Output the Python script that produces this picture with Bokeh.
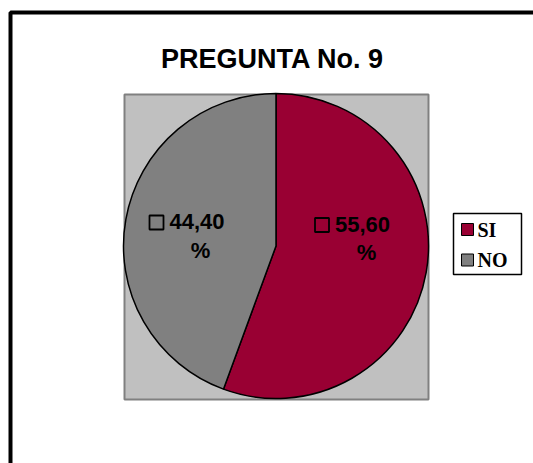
import math
from bokeh.plotting import figure
from bokeh.models import Range1d, ColumnDataSource
from bokeh.core.properties import value
from bokeh.embed import file_html
from bokeh.resources import INLINE

# ---- data ----
categories = ["SI", "NO"]
percentages = [55.60, 44.40]
label_texts = ["55,60", "44,40"]
colors = ["#990033", "#808080"]
title_text = "PREGUNTA No. 9"

W, H = 533, 463
def sy(y):
    return H - y

p = figure(width=W, height=H, output_backend="svg", toolbar_location=None,
           x_range=Range1d(0, W), y_range=Range1d(0, H), min_border=0)
p.axis.visible = False
p.grid.visible = False
p.outline_line_color = None
p.background_fill_color = "white"
p.border_fill_color = "white"

# outer frame (extends past right/bottom edges)
p.quad(left=[10], right=[W + 30], top=[sy(12)], bottom=[sy(H + 30)],
       fill_color=None, line_color="black", line_width=4)

# plot area
p.quad(left=[124], right=[428], top=[sy(94)], bottom=[sy(399)],
       fill_color="#C0C0C0", line_color="#808080", line_width=2)

# pie
cx, cy, r = 275.5, 245.5, 152.5
total = sum(percentages)
starts, ends = [], []
a = math.pi / 2
for v in percentages:
    da = 2 * math.pi * v / total
    # clockwise from top
    ends.append(a)
    starts.append(a - da)
    a -= da
src = ColumnDataSource(dict(start=starts, end=ends, color=colors, cat=categories))
p.wedge(x=cx, y=sy(cy), radius=r, start_angle="start", end_angle="end",
        fill_color="color", line_color="black", line_width=1.5, source=src)

# data labels (positions = layout constants)
label_pos = [(321.5, 224.5), (156.0, 222.0)]
pct_pos = [(366.0, 252.0), (200.0, 250.0)]
for (bx, by), (px, py), t in zip(label_pos, pct_pos, label_texts):
    p.rect(x=[bx], y=[sy(by)], width=14, height=14, width_units="screen",
           height_units="screen", fill_color=None, line_color="black", line_width=1.8)
    p.text(x=[bx + 13], y=[sy(by - 1)], text=[t], text_font=value("Liberation Sans"),
           text_font_style="bold", text_font_size="22px", text_align="left",
           text_baseline="middle", text_color="black")
    p.text(x=[px], y=[sy(py)], text=["%"], text_font=value("Liberation Sans"),
           text_font_style="bold", text_font_size="22px", text_align="center",
           text_baseline="middle", text_color="black")

# title
p.text(x=[272], y=[sy(58)], text=[title_text], text_font=value("Liberation Sans"),
       text_font_style="bold", text_font_size="27px", text_align="center",
       text_baseline="middle", text_color="black")

# legend
p.quad(left=[453], right=[521], top=[sy(213)], bottom=[sy(274)],
       fill_color="white", line_color="black", line_width=1.5)
leg_y = [229, 259.5]
for cat, col, ly in zip(categories, colors, leg_y):
    p.rect(x=[467], y=[sy(ly)], width=12, height=12, width_units="screen",
           height_units="screen", fill_color=col, line_color="black", line_width=1)
    p.text(x=[477], y=[sy(ly)], text=[cat], text_font=value("Liberation Serif"),
           text_font_style="bold", text_font_size="20px", text_align="left",
           text_baseline="middle", text_color="black")

open("out.html", "w").write(file_html(p, INLINE))
